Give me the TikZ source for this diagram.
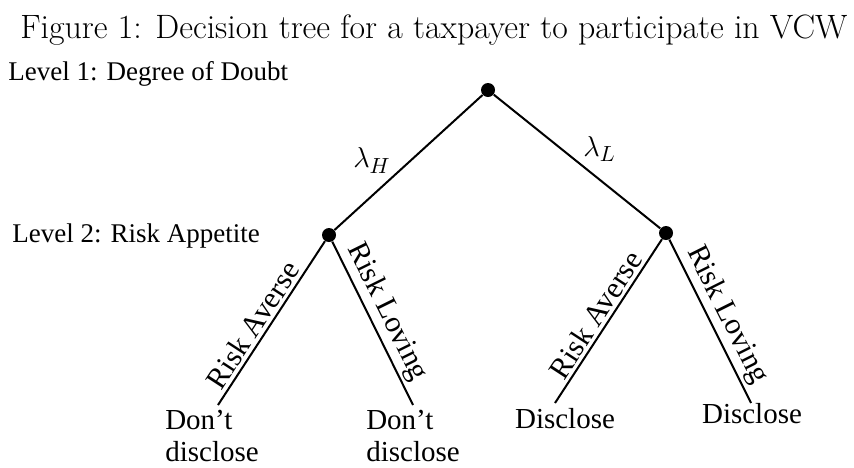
\documentclass[tikz,border=0pt]{standalone}
\usepackage{fontspec}
\newfontfamily\treefont{Liberation Serif}
\usepackage{tikz}
\usetikzlibrary{positioning}

\begin{document}
\begin{tikzpicture}[x=0.5pt,y=-0.5pt,
  dot/.style={circle, fill=black, inner sep=0pt, minimum size=7pt},
  branch/.style={line width=1pt},
  leaf/.style={font=\treefont\fontsize{14.5}{16}\selectfont, inner sep=2.5pt, anchor=north, align=left},
  tag/.style={font=\treefont\fontsize{15}{17}\selectfont, inner sep=1.5pt},
  prob/.style={font=\fontsize{15}{17}\selectfont, inner sep=1pt},
  level/.style={font=\treefont\fontsize{13.5}{16}\selectfont, inner sep=0pt, anchor=base west}]
\useasboundingbox (0,0) rectangle (854,467);
% caption
\node[inner sep=0pt, anchor=base west, font=\fontsize{16.9}{20}\selectfont] (title) at (20,38)
  {Figure 1: Decision tree for a taxpayer to participate in VCW};
% level names
\node[level] (lvlone) at (8,80) {Level 1: Degree of Doubt};
\node[level] (lvltwo) at (12,242) {Level 2: Risk Appetite};
% decision points
\node[dot] (root) at (488,90) {};
\node[dot] (high) at (329,235) {};
\node[dot] (low) at (666,233) {};
% line ends above the outcomes
\coordinate (endHA) at (218,405);
\coordinate (endHL) at (413,405);
\coordinate (endLA) at (555,403);
\coordinate (endLL) at (751,403);
% outcomes
\node[leaf] (outHA) at (212,405) {Don’t\\disclose};
\node[leaf] (outHL) at (413,405) {Don’t\\disclose};
\node[leaf] (outLA) at (565,403) {Disclose};
\node[leaf] (outLL) at (752,398) {Disclose};
% level 1 branches
\draw[branch] (root) -- node[prob, pos=0.6, above left] {$\lambda_H$} (high);
\draw[branch] (root) -- node[prob, pos=0.52, above right] {$\lambda_L$} (low);
% level 2 branches
\draw[branch] (high) -- node[tag, pos=0.56, sloped, above] {Risk Averse} (endHA);
\draw[branch] (high) -- node[tag, pos=0.48, sloped, above] {Risk Loving} (endHL);
\draw[branch] (low) -- node[tag, pos=0.51, sloped, above] {Risk Averse} (endLA);
\draw[branch] (low) -- node[tag, pos=0.51, sloped, above] {Risk Loving} (endLL);
\end{tikzpicture}
\end{document}
